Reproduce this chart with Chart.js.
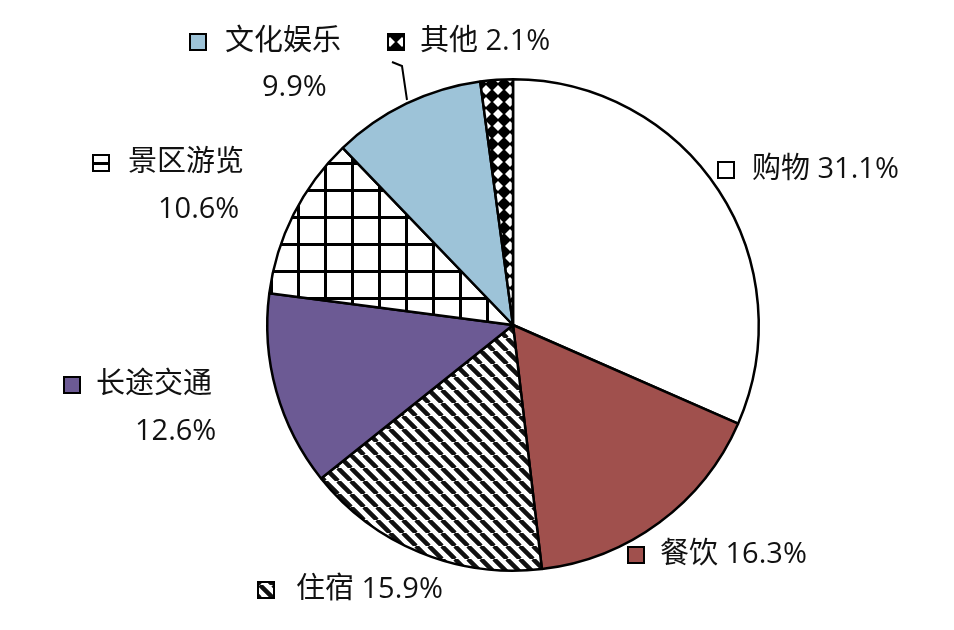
<!DOCTYPE html>
<html>
<head>
<meta charset="utf-8">
<script src="https://cdn.jsdelivr.net/npm/chart.js@4/dist/chart.umd.min.js"></script>
<style>
  html, body { margin: 0; padding: 0; background: #fff; }
  #wrap { width: 954px; height: 630px; }
</style>
</head>
<body>
<div id="wrap"><canvas id="pie"></canvas></div>
<script>
const categories = ['购物', '餐饮', '住宿', '长途交通', '景区游览', '文化娱乐', '其他'];
const shares = [31.1, 16.3, 15.9, 12.6, 10.6, 9.9, 2.1];

function makePattern(kind) {
  const c = document.createElement('canvas');
  const g = c.getContext('2d');
  if (kind === 'stripes') {
    c.width = c.height = 13;
    g.fillStyle = '#fff'; g.fillRect(0, 0, 13, 13);
    g.strokeStyle = '#111'; g.lineWidth = 4.5;
    g.beginPath();
    for (let o = -13; o <= 13; o += 13) { g.moveTo(o, 0); g.lineTo(o + 13, 13); }
    g.stroke();
  } else if (kind === 'grid') {
    c.width = c.height = 27;
    g.fillStyle = '#fff'; g.fillRect(0, 0, 27, 27);
    g.fillStyle = '#000';
    g.fillRect(0, 0, 3, 27); g.fillRect(0, 0, 27, 3);
  } else {
    c.width = c.height = 12;
    g.fillStyle = '#000'; g.fillRect(0, 0, 12, 12);
    g.fillStyle = '#fff';
    g.beginPath(); g.moveTo(6, 1); g.lineTo(11, 6); g.lineTo(6, 11); g.lineTo(1, 6); g.closePath(); g.fill();
  }
  return document.getElementById('pie').getContext('2d').createPattern(c, 'repeat');
}

const fills = ['#ffffff', '#a0504d', makePattern('stripes'), '#6c5a94', makePattern('grid'), '#9dc3d8', makePattern('dots')];

// label text lines and where they sit
const labelSpots = [
  { sq: [718, 170], lines: [['购物 31.1%', 752, 170]] },
  { sq: [628, 555], lines: [['餐饮 16.3%', 660, 555]] },
  { sq: [258, 590], lines: [['住宿 15.9%', 296, 590]] },
  { sq: [64, 385], lines: [['长途交通', 96, 385], ['12.6%', 135, 432]] },
  { sq: [93, 163], lines: [['景区游览', 128, 163], ['10.6%', 158, 210]] },
  { sq: [190, 42], lines: [['文化娱乐', 225, 42], ['9.9%', 262, 88]] },
  { sq: [388, 42], lines: [['其他 2.1%', 420, 42]] }
];

const labelPlugin = {
  id: 'outLabels',
  afterDraw(chart) {
    const ctx = chart.ctx;
    ctx.save();
    ctx.strokeStyle = '#000'; ctx.lineWidth = 2;
    ctx.beginPath(); ctx.moveTo(392, 62); ctx.lineTo(402, 66); ctx.lineTo(407, 100); ctx.stroke();
    ctx.font = '29px "Open Sans", "Noto Sans CJK SC", sans-serif';
    ctx.fillStyle = '#111'; ctx.textBaseline = 'middle';
    labelSpots.forEach((s, i) => {
      ctx.fillStyle = fills[i];
      ctx.fillRect(s.sq[0], s.sq[1] - 8, 16, 16);
      ctx.strokeRect(s.sq[0], s.sq[1] - 8, 16, 16);
      ctx.fillStyle = '#111';
      s.lines.forEach(l => ctx.fillText(l[0], l[1], l[2]));
    });
    ctx.restore();
  }
};

new Chart(document.getElementById('pie'), {
  type: 'pie',
  data: {
    labels: categories,
    datasets: [{ data: shares, backgroundColor: fills, borderColor: '#000', borderWidth: 2.5 }]
  },
  options: {
    responsive: true,
    maintainAspectRatio: false,
    animation: false,
    layout: { padding: { left: 266, top: 78, right: 194, bottom: 58 } },
    plugins: { legend: { display: false }, tooltip: { enabled: false } }
  },
  plugins: [labelPlugin]
});
</script>
</body>
</html>
